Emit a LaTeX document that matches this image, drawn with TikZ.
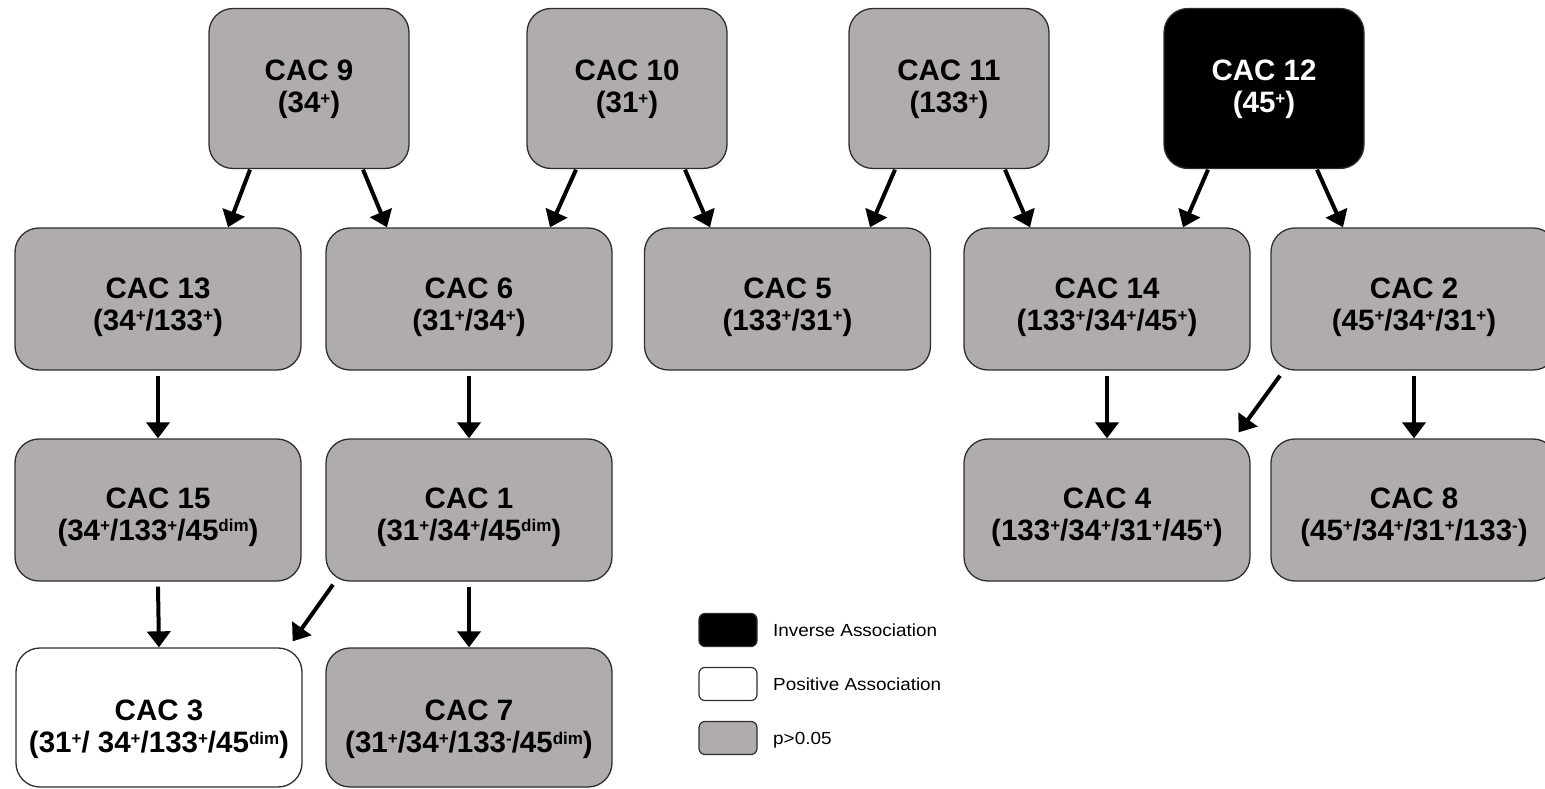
\documentclass[tikz,border=0pt]{standalone}
\usepackage{fontspec}
\newfontfamily\boxfont{Liberation Sans}
\newfontfamily\legfont[FakeStretch=1.08]{Liberation Sans}
\usetikzlibrary{arrows.meta,calc}
\definecolor{boxgray}{HTML}{B0ACAB}
\definecolor{edgegray}{HTML}{2E2E2E}
\newcommand\spr[1]{\raisebox{8.5pt}{\fontsize{17}{17}\selectfont #1}}
\newcommand\cactxt[3]{\raisebox{-#1}[0pt][0pt]{\begin{tabular}[b]{@{}c@{}}#2\\#3\end{tabular}}}
\begin{document}
\begin{tikzpicture}[x=1pt,y=-1pt,
  cac/.style={draw=edgegray, line width=1.3pt, rounded corners=24pt, fill=boxgray,
    inner sep=0pt, font=\boxfont\bfseries\fontsize{29.5}{32}\selectfont},
  topbox/.style={cac, minimum width=200pt, minimum height=160pt},
  midbox/.style={cac, minimum width=286pt, minimum height=142pt},
  lowbox/.style={cac, minimum width=286pt, minimum height=139pt},
  arr/.style={line width=4pt, -{Triangle[length=16pt,width=23pt]}},
  legbox/.style={draw=edgegray, line width=1.2pt, rounded corners=6pt,
    minimum width=58pt, minimum height=33pt, inner sep=0pt},
  legtext/.style={anchor=base west, inner sep=0pt, font=\legfont\fontsize{17.5}{20}\selectfont}
]
\useasboundingbox (0,0) rectangle (1545,789);

% top row
\node[topbox] (c9) at (309,88.5) {\cactxt{24.5pt}{CAC 9}{(34\spr{+})}};
\node[topbox] (c10) at (627,88.5) {\cactxt{24.5pt}{CAC 10}{(31\spr{+})}};
\node[topbox] (c11) at (949,88.5) {\cactxt{24.5pt}{CAC 11}{(133\spr{+})}};
\node[topbox, fill=black, text=white] (c12) at (1264,88.5) {\cactxt{24.5pt}{CAC 12}{(45\spr{+})}};

% row 2
\node[midbox] (c13) at (158,299) {\cactxt{31pt}{CAC 13}{(34\spr{+}/133\spr{+})}};
\node[midbox] (c6) at (469,299) {\cactxt{31pt}{CAC 6}{(31\spr{+}/34\spr{+})}};
\node[midbox] (c5) at (787.5,299) {\cactxt{31pt}{CAC 5}{(133\spr{+}/31\spr{+})}};
\node[midbox] (c14) at (1107,299) {\cactxt{31pt}{CAC 14}{(133\spr{+}/34\spr{+}/45\spr{+})}};
\node[midbox] (c2) at (1414,299) {\cactxt{31pt}{CAC 2}{(45\spr{+}/34\spr{+}/31\spr{+})}};

% row 3
\node[midbox] (c15) at (158,510) {\cactxt{30pt}{CAC 15}{(34\spr{+}/133\spr{+}/45\spr{dim})}};
\node[midbox] (c1) at (469,510) {\cactxt{30pt}{CAC 1}{(31\spr{+}/34\spr{+}/45\spr{dim})}};
\node[midbox] (c4) at (1107,510) {\cactxt{30pt}{CAC 4}{(133\spr{+}/34\spr{+}/31\spr{+}/45\spr{+})}};
\node[midbox] (c8) at (1414,510) {\cactxt{30pt}{CAC 8}{(45\spr{+}/34\spr{+}/31\spr{+}/133\spr{-})}};

% row 4
\node[lowbox, fill=white] (c3) at (159,717.5) {\cactxt{35pt}{CAC 3}{(31\spr{+}/ 34\spr{+}/133\spr{+}/45\spr{dim})}};
\node[lowbox] (c7) at (469,717.5) {\cactxt{35pt}{CAC 7}{(31\spr{+}/34\spr{+}/133\spr{-}/45\spr{dim})}};

% arrows row 1 -> row 2
\draw[arr] ($(c9.south)+(-59,0.5)$) -- ($(c13.north)+(70,0)$);
\draw[arr] ($(c9.south)+(54,0.5)$) -- ($(c6.north)+(-82,0)$);
\draw[arr] ($(c10.south)+(-51,0.5)$) -- ($(c6.north)+(81,0)$);
\draw[arr] ($(c10.south)+(58,0.5)$) -- ($(c5.north)+(-77.5,0)$);
\draw[arr] ($(c11.south)+(-54,0.5)$) -- ($(c5.north)+(82.5,0)$);
\draw[arr] ($(c11.south)+(56,0.5)$) -- ($(c14.north)+(-77,0)$);
\draw[arr] ($(c12.south)+(-56,0.5)$) -- ($(c14.north)+(76,0)$);
\draw[arr] ($(c12.south)+(53,0.5)$) -- ($(c2.north)+(-71,0)$);

% arrows row 2 -> row 3
\draw[arr] ($(c13.south)+(0,5)$) -- (c15.north);
\draw[arr] ($(c6.south)+(0,5)$) -- (c1.north);
\draw[arr] ($(c14.south)+(0,5)$) -- (c4.north);
\draw[arr] ($(c2.south)+(-134,5)$) -- ($(c4.north east)+(-12,-6)$);
\draw[arr] ($(c2.south)+(0,5)$) -- (c8.north);

% arrows row 3 -> row 4
\draw[arr] ($(c15.south)+(0,5)$) -- (c3.north);
\draw[arr] ($(c1.south)+(-136,3)$) -- ($(c3.north east)+(-10,-6)$);
\draw[arr] ($(c1.south)+(0,5)$) -- (c7.north);

% legend
\node[legbox, fill=black] (l1) at (728,630) {};
\node[legbox, fill=white] (l2) at (728,684) {};
\node[legbox, fill=boxgray] (l3) at (728,738) {};
\node[legtext] (t1) at (773,636) {Inverse Association};
\node[legtext] (t2) at (773,690.5) {Positive Association};
\node[legtext] (t3) at (773,744) {p>0.05};
\end{tikzpicture}
\end{document}
